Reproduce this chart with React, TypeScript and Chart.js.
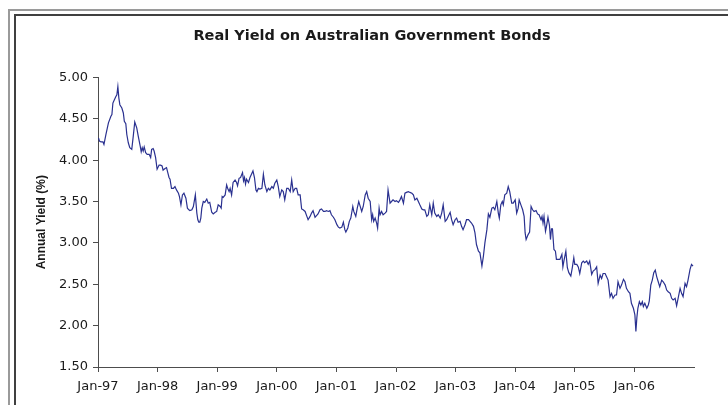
import React, { useEffect, useRef } from "react";
import { Chart, registerables } from "chart.js";

Chart.register(...registerables);

// Months elapsed since January 1997 for each observation
const monthsSinceJan97 = [
  0.1, 0.3, 0.6, 1.0, 1.2, 1.6, 2.1, 2.6, 2.8, 3.0, 3.3, 3.6, 3.8, 4.0, 4.2, 4.4, 4.8, 5.1, 5.3, 5.6,
  5.8, 6.1, 6.4, 6.8, 7.1, 7.4, 7.8, 8.1, 8.5, 8.7, 8.9, 9.1, 9.3, 9.6, 9.9, 10.3, 10.6, 10.8, 11.1, 11.3,
  11.6, 11.9, 12.3, 12.6, 12.9, 13.1, 13.5, 13.8, 14.0, 14.3, 14.5, 14.8, 15.2, 15.5, 15.8, 16.2, 16.4, 16.7, 17.0, 17.3,
  17.7, 18.0, 18.3, 18.5, 18.9, 19.2, 19.6, 19.9, 20.1, 20.3, 20.5, 20.7, 20.9, 21.2, 21.5, 21.9, 22.2, 22.5, 22.9, 23.2,
  23.6, 23.9, 24.2, 24.6, 24.8, 25.0, 25.2, 25.6, 25.9, 26.1, 26.4, 26.6, 26.9, 27.2, 27.6, 27.9, 28.1, 28.4, 28.7, 29.1,
  29.3, 29.5, 29.7, 29.9, 30.3, 30.6, 30.9, 31.2, 31.5, 31.8, 32.0, 32.3, 32.6, 33.0, 33.3, 33.6, 34.0, 34.3, 34.6, 35.0,
  35.3, 35.6, 36.0, 36.3, 36.6, 37.0, 37.3, 37.6, 38.0, 38.3, 38.7, 39.0, 39.3, 39.7, 40.0, 40.3, 40.7, 41.0, 41.3, 41.7,
  42.0, 42.3, 42.7, 43.0, 43.3, 43.7, 44.0, 44.3, 44.7, 45.0, 45.4, 45.7, 46.0, 46.4, 46.7, 47.0, 47.4, 47.7, 48.1, 48.4,
  48.7, 49.1, 49.4, 49.7, 49.9, 50.3, 50.6, 50.9, 51.3, 51.5, 51.9, 52.2, 52.5, 52.7, 53.1, 53.4, 53.8, 54.1, 54.4, 54.8,
  55.1, 55.3, 55.5, 55.8, 56.1, 56.3, 56.6, 56.8, 57.1, 57.4, 57.8, 58.1, 58.4, 58.8, 59.1, 59.4, 59.8, 60.1, 60.5, 60.8,
  61.1, 61.5, 61.8, 62.1, 62.5, 62.8, 63.2, 63.5, 63.8, 64.2, 64.5, 64.8, 65.2, 65.5, 65.8, 66.2, 66.5, 66.8, 67.2, 67.5,
  67.8, 68.2, 68.5, 68.9, 69.2, 69.5, 69.9, 70.2, 70.5, 70.9, 71.2, 71.5, 71.9, 72.2, 72.5, 72.9, 73.2, 73.5, 73.9, 74.2,
  74.6, 74.9, 75.2, 75.6, 75.9, 76.2, 76.6, 76.9, 77.3, 77.6, 77.9, 78.3, 78.6, 78.9, 79.3, 79.6, 79.9, 80.3, 80.6, 80.8,
  81.1, 81.4, 81.6, 81.9, 82.3, 82.6, 82.9, 83.3, 83.6, 84.0, 84.3, 84.6, 84.8, 85.2, 85.5, 85.8, 86.0, 86.2, 86.6, 86.9,
  87.2, 87.5, 87.8, 88.2, 88.5, 88.8, 89.2, 89.4, 89.6, 89.8, 90.1, 90.3, 90.6, 90.9, 91.1, 91.3, 91.5, 91.8, 92.1, 92.3,
  92.7, 93.0, 93.4, 93.6, 93.8, 94.2, 94.5, 94.8, 95.2, 95.5, 95.8, 96.0, 96.4, 96.7, 97.0, 97.4, 97.7, 98.0, 98.4, 98.7,
  99.0, 99.4, 99.7, 100.1, 100.4, 100.7, 101.1, 101.4, 101.7, 102.1, 102.4, 102.7, 103.1, 103.4, 103.7, 104.1, 104.4, 104.7, 105.1, 105.4,
  105.8, 106.1, 106.4, 106.8, 107.1, 107.4, 107.8, 108.1, 108.3, 108.5, 108.7, 109.0, 109.3, 109.6, 109.8, 110.1, 110.5, 110.8, 111.0, 111.3,
  111.6, 111.9, 112.2, 112.5, 112.8, 113.1, 113.5, 113.8, 114.2, 114.5, 114.8, 115.2, 115.5, 115.8, 116.2, 116.5, 116.8, 117.2, 117.5, 117.8,
  118.2, 118.5, 118.8, 119.2, 119.5, 119.8,
];

// Real yield (%) for each observation
const yields = [
  4.27, 4.23, 4.22, 4.22, 4.19, 4.31, 4.45, 4.53, 4.55, 4.69, 4.73, 4.77, 4.79, 4.89, 4.75, 4.67, 4.63, 4.57, 4.47, 4.44,
  4.31, 4.21, 4.15, 4.13, 4.29, 4.46, 4.39, 4.29, 4.17, 4.10, 4.15, 4.11, 4.16, 4.09, 4.07, 4.07, 4.03, 4.13, 4.14, 4.11,
  4.03, 3.89, 3.94, 3.94, 3.93, 3.88, 3.90, 3.91, 3.86, 3.79, 3.77, 3.66, 3.66, 3.68, 3.64, 3.60, 3.56, 3.46, 3.58, 3.60,
  3.54, 3.42, 3.40, 3.39, 3.40, 3.44, 3.58, 3.36, 3.28, 3.25, 3.25, 3.30, 3.42, 3.50, 3.49, 3.53, 3.48, 3.49, 3.37, 3.35,
  3.37, 3.38, 3.46, 3.44, 3.42, 3.56, 3.55, 3.58, 3.70, 3.66, 3.62, 3.66, 3.58, 3.73, 3.76, 3.73, 3.69, 3.78, 3.79, 3.85,
  3.75, 3.79, 3.71, 3.77, 3.73, 3.79, 3.83, 3.87, 3.79, 3.64, 3.62, 3.66, 3.65, 3.66, 3.83, 3.70, 3.62, 3.66, 3.64, 3.68,
  3.66, 3.72, 3.76, 3.68, 3.56, 3.64, 3.62, 3.52, 3.66, 3.66, 3.62, 3.76, 3.62, 3.66, 3.66, 3.58, 3.58, 3.41, 3.40, 3.38,
  3.33, 3.28, 3.32, 3.36, 3.39, 3.31, 3.33, 3.35, 3.40, 3.41, 3.38, 3.38, 3.39, 3.38, 3.39, 3.34, 3.31, 3.28, 3.22, 3.19,
  3.18, 3.19, 3.25, 3.16, 3.13, 3.18, 3.26, 3.30, 3.44, 3.38, 3.32, 3.42, 3.50, 3.46, 3.38, 3.44, 3.58, 3.62, 3.54, 3.50,
  3.28, 3.34, 3.26, 3.30, 3.24, 3.18, 3.42, 3.34, 3.38, 3.34, 3.36, 3.38, 3.64, 3.48, 3.50, 3.52, 3.50, 3.51, 3.49, 3.52,
  3.56, 3.48, 3.60, 3.61, 3.62, 3.61, 3.60, 3.58, 3.52, 3.54, 3.50, 3.46, 3.41, 3.40, 3.40, 3.32, 3.34, 3.46, 3.34, 3.48,
  3.36, 3.32, 3.34, 3.30, 3.36, 3.46, 3.26, 3.28, 3.32, 3.37, 3.28, 3.22, 3.28, 3.30, 3.25, 3.26, 3.20, 3.16, 3.22, 3.28,
  3.28, 3.26, 3.24, 3.20, 3.12, 2.98, 2.90, 2.88, 2.72, 2.84, 3.00, 3.16, 3.35, 3.31, 3.42, 3.43, 3.40, 3.50, 3.36, 3.30,
  3.46, 3.50, 3.46, 3.58, 3.60, 3.68, 3.62, 3.48, 3.48, 3.52, 3.36, 3.42, 3.52, 3.45, 3.40, 3.32, 3.12, 3.04, 3.10, 3.13,
  3.44, 3.40, 3.38, 3.39, 3.35, 3.34, 3.28, 3.32, 3.24, 3.32, 3.14, 3.20, 3.31, 3.21, 3.04, 3.17, 3.17, 2.92, 2.90, 2.80,
  2.80, 2.80, 2.86, 2.71, 2.78, 2.90, 2.70, 2.64, 2.60, 2.70, 2.82, 2.74, 2.74, 2.71, 2.63, 2.76, 2.78, 2.76, 2.78, 2.74,
  2.78, 2.62, 2.66, 2.68, 2.71, 2.51, 2.61, 2.57, 2.63, 2.63, 2.59, 2.55, 2.35, 2.39, 2.33, 2.37, 2.37, 2.53, 2.45, 2.49,
  2.56, 2.53, 2.45, 2.41, 2.39, 2.27, 2.21, 2.13, 1.93, 2.10, 2.21, 2.29, 2.25, 2.29, 2.23, 2.27, 2.21, 2.25, 2.30, 2.49,
  2.55, 2.64, 2.67, 2.59, 2.53, 2.47, 2.55, 2.53, 2.49, 2.43, 2.41, 2.39, 2.33, 2.31, 2.33, 2.24, 2.33, 2.45, 2.39, 2.35,
  2.51, 2.47, 2.55, 2.68, 2.74, 2.72,
];

const tickMonths = [0, 12, 24, 36, 48, 60, 72, 84, 96, 108];
const tickLabels = ["Jan-97", "Jan-98", "Jan-99", "Jan-00", "Jan-01", "Jan-02", "Jan-03", "Jan-04", "Jan-05", "Jan-06"];

const chartTitle = "Real Yield on Australian Government Bonds";
const yAxisTitle = "Annual Yield (%)";

export default function App() {
  const canvasRef = useRef<HTMLCanvasElement | null>(null);

  useEffect(() => {
    if (!canvasRef.current) return;

    const framePlugin = {
      id: "frame",
      beforeDraw(chart: any) {
        const ctx = chart.ctx;
        ctx.save();
        ctx.fillStyle = "#ffffff";
        ctx.fillRect(0, 0, chart.width, chart.height);
        ctx.lineWidth = 2;
        ctx.strokeStyle = "#9a9a9a";
        ctx.strokeRect(9, 10, 900, 600);
        ctx.strokeStyle = "#404040";
        ctx.strokeRect(15, 15, 900, 600);
        ctx.restore();
      },
    };

    const axisColor = "#4d4d4d";
    const textColor = "#1a1a1a";

    const chart = new Chart(canvasRef.current, {
      type: "line",
      data: {
        datasets: [
          {
            data: monthsSinceJan97.map((m, i) => ({ x: m, y: yields[i] })),
            borderColor: "#2a3190",
            borderWidth: 1.2,
            pointRadius: 0,
            tension: 0,
            fill: false,
          },
        ],
      },
      options: {
        responsive: false,
        animation: false,
        events: [],
        layout: { padding: 0 },
        plugins: {
          legend: { display: false },
          tooltip: { enabled: false },
          title: {
            display: true,
            text: chartTitle,
            color: textColor,
            font: { family: "DejaVu Sans", size: 14.5, weight: "bold", lineHeight: 1.2 },
            padding: { top: 28, bottom: 32 },
          },
        },
        scales: {
          x: {
            type: "linear",
            min: 0,
            max: 120,
            afterBuildTicks: (s: any) => {
              s.ticks = tickMonths.map((v) => ({ value: v }));
            },
            afterFit: (s: any) => {
              s.height = 38;
            },
            ticks: {
              autoSkip: false,
              maxRotation: 0,
              padding: 7,
              color: textColor,
              font: { family: "DejaVu Sans", size: 13 },
              callback: (_v: any, i: number) => tickLabels[i] ?? "",
            },
            grid: {
              display: true,
              drawOnChartArea: false,
              drawTicks: true,
              tickLength: 5,
              color: axisColor,
            },
            border: { display: true, color: axisColor, width: 1 },
          },
          y: {
            min: 1.5,
            max: 5,
            afterFit: (s: any) => {
              s.width = 98;
            },
            ticks: {
              stepSize: 0.5,
              padding: 5,
              color: textColor,
              font: { family: "DejaVu Sans", size: 13 },
              callback: (v: any) => Number(v).toFixed(2),
            },
            grid: {
              display: true,
              drawOnChartArea: false,
              drawTicks: true,
              tickLength: 5,
              color: axisColor,
            },
            border: { display: true, color: axisColor, width: 1 },
            title: {
              display: true,
              text: yAxisTitle,
              color: textColor,
              font: { family: "Liberation Sans", size: 12, weight: "bold" },
              padding: { top: 34, bottom: 0 },
            },
          },
          y2: {
            position: "right",
            display: true,
            afterFit: (s: any) => {
              s.width = 50;
            },
            ticks: { display: false },
            grid: { display: false, drawTicks: false },
            border: { display: false },
          },
        },
      },
      plugins: [framePlugin],
    } as any);

    return () => chart.destroy();
  }, []);

  return (
    <div
      style={{
        position: "fixed",
        left: 0,
        top: 0,
        width: 728,
        height: 405,
        overflow: "hidden",
        background: "#ffffff",
      }}
    >
      <canvas ref={canvasRef} width={744} height={405} style={{ display: "block", width: 744, height: 405 }} />
    </div>
  );
}
